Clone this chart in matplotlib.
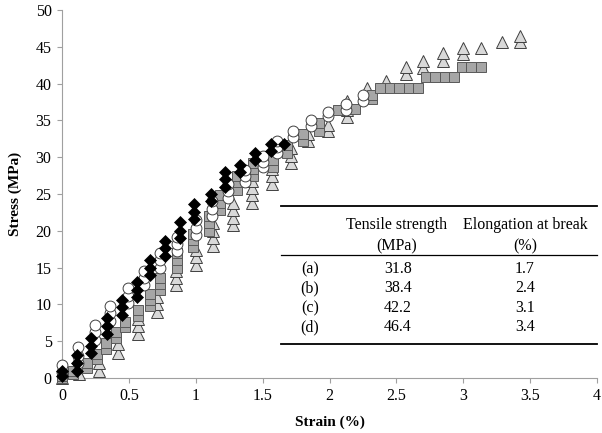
import matplotlib
matplotlib.use("Agg")
import matplotlib.pyplot as plt
from matplotlib.lines import Line2D

plt.rcParams['font.family'] = ['Liberation Serif', 'DejaVu Serif']

# ---- data: strain columns and stress values recorded at each strain ----
a_strain = [0.0, 0.11, 0.22, 0.34, 0.45, 0.56, 0.66, 0.77, 0.88, 0.99, 1.11, 1.22, 1.33, 1.44, 1.56, 1.66]
a_stress = [[0.3, 1.0], [1.0, 2.0, 3.1], [3.4, 4.4, 5.4], [6.0, 7.0, 8.2], [8.6, 9.6, 10.6],
            [11.0, 12.0, 13.0], [14.0, 15.0, 16.0], [16.6, 17.6, 18.6], [19.0, 20.0, 21.2],
            [21.6, 22.6, 23.6], [24.0, 25.0], [26.0, 27.0, 28.0], [28.0, 29.0],
            [29.6, 30.6], [30.8, 31.8], [31.8]]

b_strain = [0.0, 0.12, 0.25, 0.36, 0.49, 0.61, 0.73, 0.86, 1.0, 1.12, 1.24, 1.37, 1.5, 1.61,
            1.73, 1.86, 1.99, 2.12, 2.25]
b_stress = [[0.8, 1.8], [2.0, 3.0, 4.2], [5.2, 6.2, 7.2], [7.8, 8.8, 9.8], [10.2, 11.2, 12.2],
            [12.6, 13.6, 14.6], [15.0, 16.0, 17.0], [17.2, 18.2, 19.2], [19.4, 20.4, 21.4],
            [22.0, 23.0, 24.0], [24.4, 25.4, 26.4], [26.6, 27.4, 28.2], [28.6, 29.4, 30.2],
            [30.6, 31.4, 32.2], [32.8, 33.6], [34.2, 35.0], [35.6, 36.2], [36.4, 37.2],
            [37.6, 38.4]]

c_strain = [0.0, 0.08, 0.19, 0.26, 0.33, 0.40, 0.47, 0.57, 0.66, 0.73, 0.86, 0.98, 1.10, 1.18,
            1.31, 1.43, 1.58, 1.68, 1.80, 1.92, 2.06, 2.19, 2.32,
            2.38, 2.45, 2.52, 2.59, 2.66, 2.72, 2.79, 2.86, 2.93, 2.99, 3.06, 3.13]
c_stress = [[0.0, 0.3], [0.5, 1.0], [1.4, 2.0], [2.6, 3.2], [4.0, 4.8], [5.4, 6.2], [6.9, 7.6],
            [8.4, 9.2], [9.8, 10.6, 11.4], [12.0, 12.8, 13.6], [15.0, 16.0, 17.0],
            [17.8, 18.8, 19.6], [20.0, 21.0, 22.0], [22.8, 23.8, 24.8], [25.6, 26.6, 27.4],
            [27.4, 28.4, 29.2], [28.6, 29.6], [30.6, 31.6], [32.2, 33.2], [33.6, 34.6],
            [36.4], [36.6], [37.9, 38.5],
            [39.4], [39.4], [39.4], [39.4], [39.4], [40.9], [40.9], [40.9], [40.9], [42.3],
            [42.3], [42.3]]

d_strain = [0.0, 0.13, 0.28, 0.42, 0.57, 0.71, 0.85, 1.0, 1.13, 1.28, 1.42, 1.57, 1.71, 1.84,
            1.99, 2.13, 2.28, 2.42, 2.57, 2.70, 2.85, 3.0, 3.13, 3.29, 3.42]
d_stress = [[0.0], [0.5], [0.9, 2.0], [3.4, 4.6], [6.0, 7.0, 8.0], [9.0, 10.0, 11.0],
            [12.6, 13.6, 14.6], [15.4, 16.4, 17.4], [18.0, 19.0, 20.0, 21.0],
            [20.8, 21.8, 22.8, 23.8], [23.8, 24.8, 25.8, 26.8], [26.4, 27.4, 28.4, 29.4],
            [29.2, 30.2, 31.2], [32.2, 33.2], [33.6, 34.4], [35.4, 36.4, 37.6], [38.6, 39.4],
            [40.3], [41.3, 42.3], [42.1, 43.0], [43.1, 44.1], [44.0, 44.9], [44.9], [45.7],
            [45.7, 46.5]]

table_rows = ['(a)', '(b)', '(c)', '(d)']
tensile = ['31.8', '38.4', '42.2', '46.4']
elong = ['1.7', '2.4', '3.1', '3.4']

x_ticks = [0, 0.5, 1, 1.5, 2, 2.5, 3, 3.5, 4]
y_ticks = [0, 5, 10, 15, 20, 25, 30, 35, 40, 45, 50]


def flatten(xs, ys):
    px, py = [], []
    for x, col in zip(xs, ys):
        for y in col:
            px.append(x)
            py.append(y)
    return px, py


fig = plt.figure(figsize=(6.02, 4.33), dpi=100)
ax = fig.add_axes([0.103, 0.127, 0.889, 0.85])

dx, dy = flatten(d_strain, d_stress)
ax.plot(dx, dy, linestyle='none', marker='^', markersize=8.2, markerfacecolor='#d9d9d9',
        markeredgecolor='#404040', markeredgewidth=0.7, clip_on=False, zorder=3)
cx, cy = flatten(c_strain, c_stress)
ax.plot(cx, cy, linestyle='none', marker='s', markersize=7.2, markerfacecolor='#a6a6a6',
        markeredgecolor='#595959', markeredgewidth=0.7, clip_on=False, zorder=4)
bx, by = flatten(b_strain, b_stress)
ax.plot(bx, by, linestyle='none', marker='o', markersize=7.8, markerfacecolor='white',
        markeredgecolor='#404040', markeredgewidth=0.7, clip_on=False, zorder=5)
ax_, ay = flatten(a_strain, a_stress)
ax.plot(ax_, ay, linestyle='none', marker='D', markersize=6.5, markerfacecolor='black',
        markeredgecolor='black', markeredgewidth=0.5, clip_on=False, zorder=6)

ax.set_xlim(0, 4)
ax.set_ylim(0, 50)
ax.set_xticks(x_ticks)
ax.set_xticklabels([f'{t:g}' for t in x_ticks])
ax.set_yticks(y_ticks)
for s in ['top', 'right']:
    ax.spines[s].set_visible(False)
for s in ['left', 'bottom']:
    ax.spines[s].set_color('#a0a0a0')
    ax.spines[s].set_linewidth(0.8)
ax.tick_params(direction='out', length=3.5, width=0.8, color='#a0a0a0', labelsize=11.5,
               labelcolor='black', pad=4)
ax.set_xlabel('Strain (%)', fontsize=11, fontweight='bold', labelpad=8)
ax.set_ylabel('Stress (MPa)', fontsize=11, fontweight='bold', labelpad=10)

# ---- inset table (figure pixel coordinates converted to figure fraction) ----
W, H = 602.0, 433.0


def fx(px):
    return px / W


def fy(py):
    return 1 - py / H


fig.add_artist(Line2D([fx(281), fx(597)], [fy(205.5), fy(205.5)], color='black', lw=1.3))
fig.add_artist(Line2D([fx(281), fx(597)], [fy(255.5), fy(255.5)], color='black', lw=0.9))
fig.add_artist(Line2D([fx(281), fx(597)], [fy(343.5), fy(343.5)], color='black', lw=1.3))

tfs = 11.5
fig.text(fx(397), fy(225), 'Tensile strength', ha='center', va='center', fontsize=tfs)
fig.text(fx(397), fy(246), '(MPa)', ha='center', va='center', fontsize=tfs)
fig.text(fx(525), fy(225), 'Elongation at break', ha='center', va='center', fontsize=tfs)
fig.text(fx(525), fy(246), '(%)', ha='center', va='center', fontsize=tfs)
row_y = [269, 288.5, 308, 327]
for lab, t, e, yy in zip(table_rows, tensile, elong, row_y):
    fig.text(fx(310), fy(yy), lab, ha='center', va='center', fontsize=tfs)
    fig.text(fx(398), fy(yy), t, ha='center', va='center', fontsize=tfs)
    fig.text(fx(525), fy(yy), e, ha='center', va='center', fontsize=tfs)

fig.savefig('out.png', dpi=100)
